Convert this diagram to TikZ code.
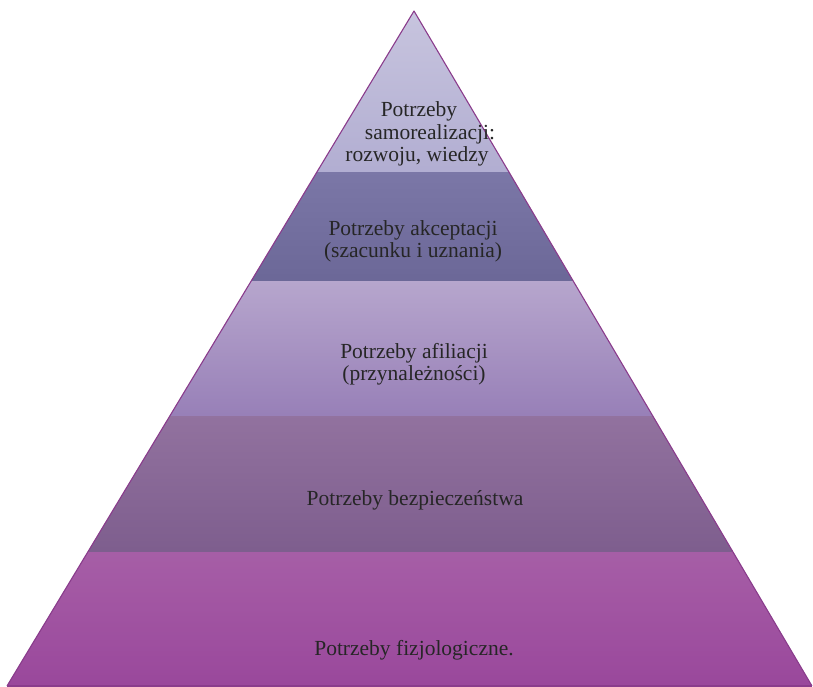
\documentclass[tikz,border=0pt]{standalone}
\usepackage{fontspec}
\setmainfont{Liberation Serif}
\begin{document}
\begin{tikzpicture}[x=1pt,y=-1pt,
  lbl/.style={anchor=base,inner sep=0pt,text=black!85,font=\fontsize{21.5}{22}\selectfont},
  edge/.style={draw=outl,line width=1.1pt,line join=round}]
\definecolor{outl}{HTML}{8A3C8C}
\definecolor{aE}{HTML}{B2AED2}\definecolor{aM}{HTML}{DAD8EC}
\definecolor{bE}{HTML}{6C6898}\definecolor{bM}{HTML}{928EBE}
\definecolor{cE}{HTML}{9880B8}\definecolor{cM}{HTML}{BCA8D4}
\definecolor{dE}{HTML}{7E5E8E}\definecolor{dM}{HTML}{A686B0}
\definecolor{eE}{HTML}{9A489C}\definecolor{eM}{HTML}{B67AB4}
\useasboundingbox (0,0) rectangle (813,687);
\coordinate (A) at (414,11);
\coordinate (BL) at (7,686);
\coordinate (BR) at (812,686);
\begin{scope}
  \clip (A) -- (BL) -- (BR) -- cycle;
  % band 1
  \shade[left color=aE,middle color=aM,right color=aE] (300,0) rectangle (530,173);
  \shade[top color=white,bottom color=aE,fill opacity=0.3] (300,0) rectangle (530,173);
  % band 2
  \shade[left color=bE,middle color=bM,right color=bE] (245,173) rectangle (582,281);
  \shade[top color=bM,bottom color=bE,fill opacity=0.4] (245,173) rectangle (582,281);
  % band 3
  \shade[left color=cE,middle color=cM,right color=cE] (165,281) rectangle (660,416);
  \shade[top color=white,bottom color=cE,fill opacity=0.3] (165,281) rectangle (660,416);
  % band 4
  \shade[left color=dE,middle color=dM,right color=dE] (85,416) rectangle (740,552);
  \shade[top color=dM,bottom color=dE,fill opacity=0.5] (85,416) rectangle (740,552);
  % band 5
  \shade[left color=eE,middle color=eM,right color=eE] (0,552) rectangle (813,687);
  \shade[top color=eM,bottom color=eE,fill opacity=0.45] (0,552) rectangle (813,687);
\end{scope}
\draw[edge] (BL) -- (A) -- (BR);
\draw[draw=outl,line width=1.5pt] (BL) -- (BR);
% texts
\node[lbl] (s1a) at (419,117) {Potrzeby};
\node[lbl] (s1b) at (430,140) {samorealizacji:};
\node[lbl] (s1c) at (417,162) {rozwoju, wiedzy};
\node[lbl] (s2a) at (413,235) {Potrzeby akceptacji};
\node[lbl] (s2b) at (413,257) {(szacunku i uznania)};
\node[lbl] (s3a) at (414,358) {Potrzeby afiliacji};
\node[lbl] (s3b) at (414,380) {(przynależności)};
\node[lbl] (s4) at (415,505) {Potrzeby bezpieczeństwa};
\node[lbl] (s5) at (414,655) {Potrzeby fizjologiczne.};
\end{tikzpicture}
\end{document}
